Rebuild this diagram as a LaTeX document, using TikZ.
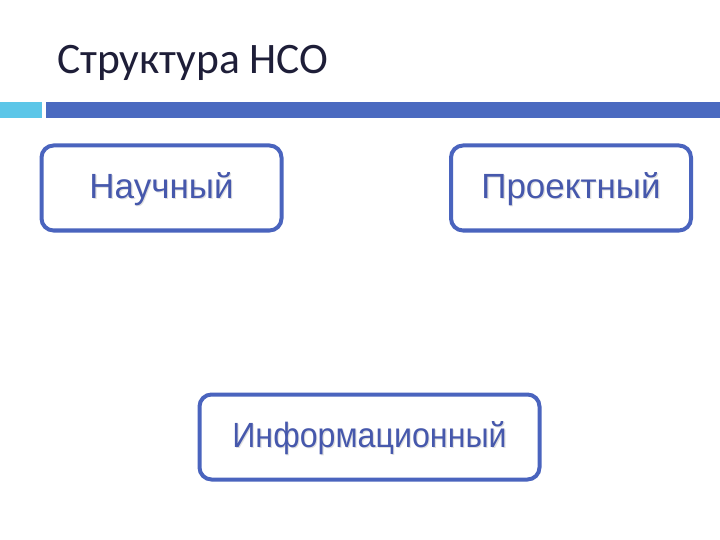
\documentclass[tikz,border=0pt]{standalone}
\usepackage{fontspec}
\setmainfont{Liberation Sans}
\newfontfamily\titlefont{Carlito}
\definecolor{boxblue}{HTML}{4A64BE}
\definecolor{txtblue}{HTML}{4658AC}
\definecolor{barblue}{HTML}{4A6AC0}
\definecolor{barcyan}{HTML}{5CC6E8}
\definecolor{titlecol}{HTML}{1E1E38}
\newcommand{\shadowed}[1]{\makebox[0pt][l]{\hspace{1.2pt}\raisebox{-1.2pt}{\textcolor{black!12}{#1}}}#1}
\tikzset{
  catbox/.style={draw=boxblue, line width=4pt, rounded corners=12pt, fill=white, inner sep=0pt},
  cattext/.style={text=txtblue, font=\fontsize{35}{40}\selectfont}
}
\begin{document}
\begin{tikzpicture}[x=1pt,y=-1pt]
\useasboundingbox (0,0) rectangle (720,540);
\fill[white] (0,0) rectangle (720,540);
\node[anchor=base west, text=titlecol, font=\titlefont\fontsize{43.5}{50}\selectfont, inner sep=0pt] (title) at (57,74) {Структура НСО};
\fill[barcyan] (0,102) rectangle (42,118);
\fill[barblue] (46,102) rectangle (720,118);
\node[catbox, minimum width=240pt, minimum height=85pt] (nauch) at (161.5,188) {};
\node[catbox, minimum width=240pt, minimum height=85pt] (proekt) at (571,188) {};
\node[catbox, minimum width=340pt, minimum height=85pt] (inform) at (369.5,437) {};
\node[cattext] (t1) at ([shift={(0,2)}]nauch.center) {\shadowed{Научный}};
\node[cattext] (t2) at ([shift={(0,2)}]proekt.center) {\shadowed{Проектный}};
\node[cattext, xscale=0.92] (t3) at ([shift={(0,2)}]inform.center) {\shadowed{Информационный}};
\end{tikzpicture}
\end{document}
